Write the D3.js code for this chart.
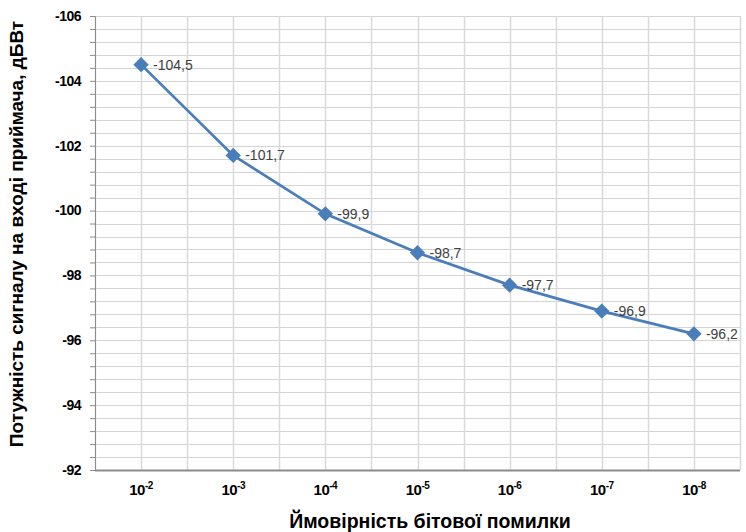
<!DOCTYPE html>
<html>
<head>
<meta charset="utf-8">
<script src="https://cdn.jsdelivr.net/npm/d3@7"></script>
<style>
  body { margin: 0; background: #fff; }
  text { font-family: "Liberation Sans", Arial, sans-serif; }
</style>
</head>
<body>
<div id="chart"></div>
<script>
// error probability exponents (10^-n) and receiver input power, dBW
const exponents = [2, 3, 4, 5, 6, 7, 8]
const power = [-104.5, -101.7, -99.9, -98.7, -97.7, -96.9, -96.2]
const yTicks = [-106, -104, -102, -100, -98, -96, -94, -92]

const margin = { top: 16, right: 6, bottom: 62, left: 95 }
const width = 746 - margin.left - margin.right
const height = 532 - margin.top - margin.bottom

const svg = d3.select('#chart')
  .append('svg')
  .attr('width', 746)
  .attr('height', 532)
  .append('g')
  .attr('transform', 'translate(' + margin.left + ',' + margin.top + ')')

const x = d3.scaleBand()
  .domain(exponents)
  .range([0, width])

const y = d3.scaleLinear()
  .domain([-106, -92])
  .range([0, height])

// minor grid every 0.4
const minor = d3.range(-106, -92.0001, 0.4)
svg.append('g')
  .selectAll('line')
  .data(minor)
  .enter()
  .append('line')
  .attr('x1', 0)
  .attr('x2', width)
  .attr('y1', d => Math.round(y(d)) + 0.5)
  .attr('y2', d => Math.round(y(d)) + 0.5)
  .attr('stroke', '#d4d4d4')

// vertical grid: at band edges and centres
const vLines = []
exponents.forEach(e => {
  vLines.push(x(e))
  vLines.push(x(e) + x.bandwidth() / 2)
})
vLines.push(width)
svg.append('g')
  .selectAll('line')
  .data(vLines)
  .enter()
  .append('line')
  .attr('x1', d => Math.round(d) + 0.5)
  .attr('x2', d => Math.round(d) + 0.5)
  .attr('y1', 0)
  .attr('y2', height)
  .attr('stroke', '#d9d9d9')
  .attr('stroke-width', 1.5)

// left axis
const yAxis = svg.append('g')
  .call(d3.axisLeft(y).tickValues(minor).tickSize(5).tickFormat(''))
yAxis.select('.domain').attr('stroke', '#8c8c8c')
yAxis.selectAll('.tick line').attr('stroke', '#8c8c8c')

svg.append('g')
  .selectAll('text')
  .data(yTicks)
  .enter()
  .append('text')
  .attr('x', -14)
  .attr('y', d => y(d))
  .attr('dy', '0.35em')
  .attr('text-anchor', 'end')
  .attr('font-size', 14)
  .attr('font-weight', 'bold')
  .attr('letter-spacing', -0.5)
  .text(d => d)

// bottom axis line
svg.append('line')
  .attr('x1', 0)
  .attr('x2', width)
  .attr('y1', height + 0.5)
  .attr('y2', height + 0.5)
  .attr('stroke', '#8c8c8c')
  .attr('stroke-width', 2)

const xLabels = svg.append('g')
  .selectAll('text')
  .data(exponents)
  .enter()
  .append('text')
  .attr('x', d => x(d) + x.bandwidth() / 2)
  .attr('y', height + 25)
  .attr('text-anchor', 'middle')
  .attr('font-size', 15)
  .attr('font-weight', 'bold')
  .attr('letter-spacing', -0.5)
xLabels.append('tspan').text('10')
xLabels.append('tspan')
  .attr('font-size', 10)
  .attr('dy', -6)
  .text(d => '-' + d)

// line and markers
const line = d3.line()
  .x((d, i) => x(exponents[i]) + x.bandwidth() / 2)
  .y(d => y(d))

svg.append('path')
  .datum(power)
  .attr('d', line)
  .attr('fill', 'none')
  .attr('stroke', '#4a7ebb')
  .attr('stroke-width', 2.75)

svg.append('g')
  .selectAll('path')
  .data(power)
  .enter()
  .append('path')
  .attr('d', d3.symbol().type(d3.symbolDiamond2).size(150))
  .attr('transform', (d, i) => 'translate(' + (x(exponents[i]) + x.bandwidth() / 2) + ',' + y(d) + ')')
  .attr('fill', '#4a7ebb')

svg.append('g')
  .selectAll('text')
  .data(power)
  .enter()
  .append('text')
  .attr('x', (d, i) => x(exponents[i]) + x.bandwidth() / 2 + 12)
  .attr('y', d => y(d))
  .attr('dy', '0.35em')
  .attr('font-size', 14)
  .attr('fill', '#404040')
  .text(d => String(d).replace('.', ','))

// axis titles
svg.append('text')
  .attr('x', 335)
  .attr('y', height + 58)
  .attr('text-anchor', 'middle')
  .attr('font-size', 19.5)
  .attr('font-weight', 'bold')
  .text('Ймовірність бітової помилки')

svg.append('text')
  .attr('transform', 'translate(' + (-72) + ',' + (height / 2 - 9) + ') rotate(-90)')
  .attr('text-anchor', 'middle')
  .attr('font-size', 19)
  .attr('font-weight', 'bold')
  .text('Потужність сигналу на вході приймача, дБВт')
</script>
</body>
</html>
